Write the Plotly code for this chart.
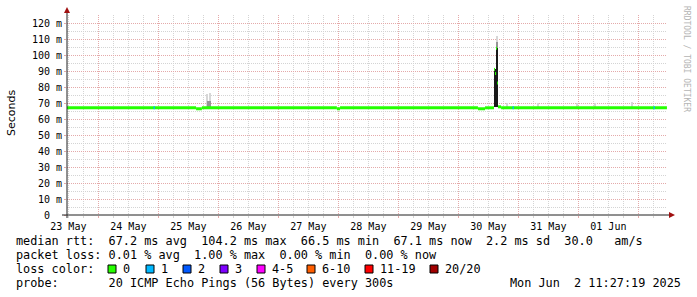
import plotly.graph_objects as go
from datetime import datetime

# ---------------- data ----------------
t_start = "2025-05-23 11:27:19"
t_end = "2025-06-02 11:27:19"

# median rtt (ms), step values starting at each time
median_time = ["2025-05-23 11:27", "2025-05-25 15:05", "2025-05-25 17:25",
               "2025-05-27 23:25", "2025-05-28 00:40", "2025-05-30 07:50",
               "2025-05-30 10:40", "2025-05-30 14:15", "2025-05-30 14:40",
               "2025-05-30 15:05", "2025-05-30 15:30", "2025-05-30 15:50",
               "2025-05-30 17:05", "2025-06-02 11:05"]
median_ms = [67.0, 66.4, 67.0, 66.4, 67.0, 66.4, 67.0, 91.0, 88.5, 104.2,
             82.5, 67.6, 67.0, 67.0]

# steps with 1 lost packet (median value at that step)
loss1_time = ["2025-05-24 22:05", "2025-05-30 21:40", "2025-06-02 06:05"]
loss1_ms = [67.0, 67.0, 67.0]

# smoke (ping spread) : faint, medium and dense layers
smoke_faint_time = ["2025-05-25 19:40", "2025-05-25 20:30", "2025-05-30 19:30",
                    "2025-05-31 07:50", "2025-05-31 23:25", "2025-06-01 06:40",
                    "2025-06-01 21:25", "2025-05-30 15:40"]
smoke_faint_lo = [67.5, 67.5, 67.5, 67.5, 67.5, 67.5, 67.5, 104.0]
smoke_faint_hi = [75.5, 76.0, 70.0, 70.0, 70.0, 70.0, 70.5, 112.0]

smoke_mid_time = ["2025-05-25 19:50", "2025-05-25 20:40", "2025-05-30 15:40"]
smoke_mid_lo = [67.5, 67.5, 104.0]
smoke_mid_hi = [71.5, 71.0, 108.0]

smoke_dark_time = ["2025-05-30 14:35", "2025-05-30 15:40"]
smoke_dark_lo = [67.5, 67.5]
smoke_dark_hi = [91.0, 104.2]

y_ticks = [0, 10, 20, 30, 40, 50, 60, 70, 80, 90, 100, 110, 120]
y_ticktext = ["0\u00a0\u00a0"] + [f"{v} m" for v in y_ticks[1:]]

legend_lines = [
    "median rtt:  67.2 ms avg  104.2 ms max  66.5 ms min  67.1 ms now  2.2 ms sd  30.0   am/s",
    "packet loss: 0.01 % avg  1.00 % max  0.00 % min  0.00 % now",
    "loss color:",
    "probe:       20 ICMP Echo Pings (56 Bytes) every 300s",
]
loss_labels = ["0", "1", "2", "3", "4-5", "6-10", "11-19", "20/20"]
loss_colors = ["#26ff00", "#00b8ff", "#0059ff", "#7e00ff", "#ff00ff",
               "#ff5e00", "#ff0000", "#a10000"]
stamp = "Mon Jun  2 11:27:19 2025"
watermark = "RRDTOOL / TOBI OETIKER"

# ---------------- layout geometry ----------------
W, H = 697, 297
L, R, T, B = 67, 30, 15, 82
PW, PH = W - L - R, H - T - B


def px(x):
    return (x - L) / PW


def py(y):
    return (H - B - y) / PH


def nb(s):
    return s.replace(" ", "\u00a0")


MONO = "DejaVu Sans Mono"
FS = 11.84
MAJOR = "rgb(228,170,170)"
MINOR = "rgb(212,212,212)"
STEP_MS = 24 * 60 * 1000

fig = go.Figure()


def add_smoke(times, lo, hi, color, wsteps):
    fig.add_trace(go.Bar(
        x=times, y=[h - l for l, h in zip(lo, hi)], base=lo,
        width=[wsteps * STEP_MS] * len(times),
        marker=dict(color=color, line=dict(width=0)),
        showlegend=False, hoverinfo="skip"))


add_smoke(smoke_faint_time, smoke_faint_lo, smoke_faint_hi, "rgb(215,215,215)", 1.2)
add_smoke(smoke_mid_time, smoke_mid_lo, smoke_mid_hi, "rgb(150,150,150)", 1.2)
add_smoke(smoke_dark_time, smoke_dark_lo, smoke_dark_hi, "rgb(25,25,25)", 1.4)

# median as horizontal steps
mx, my = [], []
for i in range(len(median_time) - 1):
    mx += [median_time[i], median_time[i + 1], None]
    my += [median_ms[i], median_ms[i], None]
mx += [median_time[-1], "2025-06-02 11:27", None]
my += [median_ms[-1], median_ms[-1], None]
fig.add_trace(go.Scatter(x=mx, y=my, mode="lines",
                         line=dict(color=loss_colors[0], width=3),
                         showlegend=False, hoverinfo="skip"))

lx, ly = [], []
for t, v in zip(loss1_time, loss1_ms):
    t0 = datetime.fromisoformat(t)
    lx += [t0, datetime.fromtimestamp(t0.timestamp() + 30 * 60), None]
    ly += [v, v, None]
fig.add_trace(go.Scatter(x=lx, y=ly, mode="lines",
                         line=dict(color=loss_colors[1], width=3),
                         showlegend=False, hoverinfo="skip"))

shapes = []
# axis lines
shapes.append(dict(type="line", xref="paper", yref="paper",
                   x0=px(62), x1=px(670), y0=py(215), y1=py(215),
                   line=dict(color="#202020", width=1), layer="above"))
shapes.append(dict(type="line", xref="paper", yref="paper",
                   x0=px(67), x1=px(67), y0=py(218), y1=py(10),
                   line=dict(color="#202020", width=1), layer="above"))
# arrows
shapes.append(dict(type="path", xref="paper", yref="paper",
                   path=f"M {px(64)} {py(13)} L {px(70)} {py(13)} L {px(67)} {py(7)} Z",
                   fillcolor="#a01010", line=dict(width=0), layer="above"))
shapes.append(dict(type="path", xref="paper", yref="paper",
                   path=f"M {px(669)} {py(212)} L {px(669)} {py(218)} L {px(675)} {py(215)} Z",
                   fillcolor="#a01010", line=dict(width=0), layer="above"))

annotations = []
line_y = [241, 255, 269, 283]
for txt, yy in zip(legend_lines, line_y):
    annotations.append(dict(text=nb(txt), xref="paper", yref="paper",
                            x=px(15), y=py(yy), xanchor="left", yanchor="middle",
                            showarrow=False, borderpad=0,
                            font=dict(family=MONO, size=FS, color="black")))
annotations.append(dict(text=nb(stamp), xref="paper", yref="paper",
                        x=px(682), y=py(283), xanchor="right", yanchor="middle",
                        showarrow=False, borderpad=0,
                        font=dict(family=MONO, size=FS, color="black")))

sq_x = [108, 146, 183, 220, 257, 307, 365, 430]
lab_x = [122, 160, 197, 234, 271, 321, 379, 444]
for c, lab, sx, lxp in zip(loss_colors, loss_labels, sq_x, lab_x):
    shapes.append(dict(type="rect", xref="paper", yref="paper",
                       x0=px(sx), x1=px(sx + 8), y0=py(273), y1=py(265),
                       fillcolor=c, line=dict(color="black", width=1)))
    annotations.append(dict(text=nb(lab), xref="paper", yref="paper",
                            x=px(lxp), y=py(269), xanchor="left", yanchor="middle",
                            showarrow=False, borderpad=0,
                            font=dict(family=MONO, size=FS, color="black")))

annotations.append(dict(text="Seconds", xref="paper", yref="paper",
                        x=px(11), y=py(113), xanchor="center", yanchor="middle",
                        textangle=-90, showarrow=False, borderpad=0,
                        font=dict(family="DejaVu Sans", size=11, color="black")))
annotations.append(dict(text=nb(watermark), xref="paper", yref="paper",
                        x=px(686), y=py(59), xanchor="center", yanchor="middle",
                        textangle=90, showarrow=False, borderpad=0,
                        font=dict(family=MONO, size=8, color="rgb(180,180,180)")))

fig.update_layout(
    width=W, height=H,
    margin=dict(l=L, r=R, t=T, b=B, pad=0),
    paper_bgcolor="white", plot_bgcolor="white",
    showlegend=False, barmode="overlay", bargap=0,
    shapes=shapes, annotations=annotations,
    xaxis=dict(
        type="date", range=[t_start, t_end],
        tick0="2025-05-23", dtick=86400000, ticklabelmode="period",
        tickformat="%d %b", showgrid=True, gridcolor=MAJOR, gridwidth=1,
        griddash="1px,1px", zeroline=False, showline=False,
        ticks="outside", ticklen=2, tickcolor=MAJOR,
        tickfont=dict(family=MONO, size=10, color="black"),
        minor=dict(tick0="2025-05-23", dtick=21600000, showgrid=True,
                   gridcolor=MINOR, griddash="1px,1px", gridwidth=1,
                   ticks="outside", ticklen=2, tickcolor=MINOR),
        fixedrange=True,
    ),
    yaxis=dict(
        range=[0, 125], tickvals=y_ticks, ticktext=y_ticktext,
        showgrid=True, gridcolor=MAJOR, gridwidth=1, griddash="1px,1px",
        zeroline=False, showline=False,
        ticks="outside", ticklen=2, tickcolor=MAJOR,
        tickfont=dict(family=MONO, size=10, color="black"),
        minor=dict(dtick=5, showgrid=True, gridcolor=MINOR,
                   griddash="1px,1px", gridwidth=1),
        fixedrange=True,
    ),
)

fig.write_html("out.html")
